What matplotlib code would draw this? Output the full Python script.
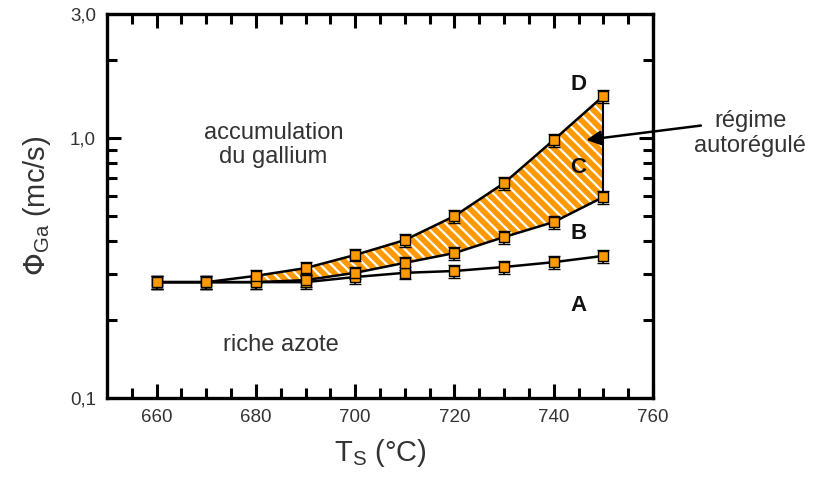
#!/usr/bin/env python3
# -*- coding: utf-8 -*-
"""
Flux de gallium en fonction de la température du substrat
(régime autorégulé entre les courbes B et D)
"""

import matplotlib
matplotlib.use("Agg")
import matplotlib.pyplot as plt
from matplotlib.ticker import FixedLocator, NullFormatter

plt.rcParams['font.family'] = ['Liberation Sans', 'DejaVu Sans']
plt.rcParams['hatch.linewidth'] = 1.6
plt.rcParams['hatch.color'] = 'white'

# Données
T = [660, 670, 680, 690, 700, 710, 720, 730, 740, 750]
phi_A = [0.279, 0.279, 0.279, 0.279, 0.292, 0.303, 0.308, 0.319, 0.333, 0.352]
phi_B = [0.279, 0.279, 0.279, 0.284, 0.303, 0.331, 0.361, 0.416, 0.475, 0.593]
phi_D = [0.279, 0.279, 0.295, 0.316, 0.355, 0.405, 0.501, 0.671, 0.983, 1.45]
err_A = [0.016, 0.016, 0.016, 0.016, 0.017, 0.017, 0.018, 0.018, 0.019, 0.020]
err_B = [0.016, 0.016, 0.016, 0.016, 0.017, 0.019, 0.021, 0.024, 0.027, 0.034]
err_D = [0.016, 0.016, 0.017, 0.018, 0.020, 0.023, 0.029, 0.038, 0.056, 0.083]

# zone hachurée entre B et D (à partir de 680 °C)
i0 = T.index(680)
T_zone = T[i0:]
B_zone = phi_B[i0:]
D_zone = phi_D[i0:]

orange = '#FF9900'
gris = '#333333'

fig = plt.figure(figsize=(8.15, 4.82), dpi=100)
ax = fig.add_axes([0.1313, 0.1743, 0.6699, 0.7967])

ax.fill_between(T_zone, B_zone, D_zone, facecolor=orange, edgecolor='white',
                hatch='\\\\\\', linewidth=0, zorder=1)
ax.plot([T_zone[-1], T_zone[-1]], [B_zone[-1], D_zone[-1]], color='black',
        lw=1.5, zorder=2)

for phi, err in [(phi_A, err_A), (phi_B, err_B), (phi_D, err_D)]:
    ax.errorbar(T, phi, yerr=err, fmt='-s', color='black', lw=1.8,
                marker='s', ms=6.5, mfc=orange, mec='black', mew=1.0,
                ecolor='black', elinewidth=1.2, capsize=4, capthick=2.0,
                zorder=3)

# axes
ax.set_yscale('log')
ax.set_xlim(650, 760)
ax.set_ylim(0.1, 3.0)

ax.xaxis.set_major_locator(FixedLocator([660, 680, 700, 720, 740, 760]))
ax.xaxis.set_minor_locator(FixedLocator(list(range(655, 760, 5))))
ax.yaxis.set_major_locator(FixedLocator([0.1, 1.0, 3.0]))
ax.yaxis.set_minor_locator(FixedLocator([0.2, 0.3, 0.4, 0.5, 0.6, 0.7,
                                         0.8, 0.9, 2.0]))
ax.yaxis.set_minor_formatter(NullFormatter())
ax.set_yticklabels(['0,1', '1,0', '3,0'])

ax.tick_params(which='both', direction='in', bottom=True, top=True,
               left=True, right=True, labelsize=13.5, labelcolor=gris,
               width=2.2, color='black')
ax.tick_params(which='major', length=10, pad=8)
ax.tick_params(which='minor', length=7)
for s in ax.spines.values():
    s.set_linewidth(2.4)

ax.set_xlabel(r'T$_\mathregular{S}$ (°C)', fontsize=21, color=gris, labelpad=8)
ax.set_ylabel(r'$\Phi_\mathregular{Ga}$ (mc/s)', fontsize=21, color=gris,
              labelpad=12)

# annotations
ax.text(683.5, 0.94, 'accumulation\ndu gallium', fontsize=17, color=gris,
        ha='center', va='center', linespacing=1.15)
ax.text(685, 0.16, 'riche azote', fontsize=17, color=gris,
        ha='center', va='center')

for lab, y in [('D', 1.6), ('C', 0.767), ('B', 0.431), ('A', 0.226)]:
    ax.text(745, y, lab, fontsize=16, fontweight='bold', color='#111111',
            ha='center', va='center')

ax.annotate('', xy=(746, 0.98), xytext=(770.2, 1.12),
            arrowprops=dict(arrowstyle='-|>', color='black', lw=1.8,
                            mutation_scale=22),
            annotation_clip=False, zorder=5)
ax.text(779.6, 1.04, 'régime\nautorégulé', fontsize=17, color=gris,
        ha='center', va='center', linespacing=1.15, clip_on=False)

fig.savefig('out.png', dpi=100)
